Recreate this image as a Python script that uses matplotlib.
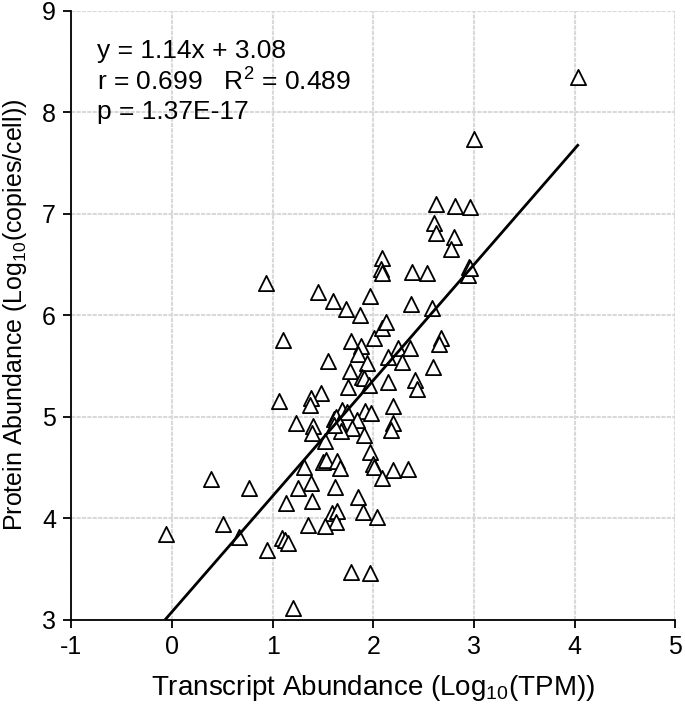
import matplotlib
matplotlib.use("Agg")
import matplotlib.pyplot as plt
import numpy as np

plt.rcParams["font.family"] = ["Liberation Sans", "DejaVu Sans"]
plt.rcParams["mathtext.fontset"] = "custom"
plt.rcParams["mathtext.rm"] = "Liberation Sans"
plt.rcParams["mathtext.it"] = "Liberation Sans:italic"
plt.rcParams["axes.unicode_minus"] = False

# log10 transcript (TPM) vs log10 protein copies/cell
transcript = [
    4.03, 3.00, 2.62, 2.81, 2.96, 2.60, 2.62, 2.80, 2.77, 2.09,
    2.08, 2.09, 2.38, 2.53, 2.95, 2.94, 2.96, 0.93, 1.45, 1.60,
    1.73, 1.87, 1.97, 2.37, 2.58, 1.10, 1.55, 1.78, 1.88, 2.01,
    2.09, 2.13, 1.85, 1.94, 1.77, 1.89, 1.91, 1.96, 1.75, 2.25,
    2.36, 2.15, 2.28, 2.59, 2.67, 2.65, 2.15, 2.41, 2.43, 1.06,
    1.48, 1.38, 1.37, 2.20, 1.69, 1.74, 1.92, 1.98, 1.61, 1.84,
    2.20, 2.18, 1.23, 1.40, 1.39, 1.52, 1.63, 1.66, 1.79, 1.68,
    1.91, 1.97, 2.00, 2.01, 2.20, 2.34, 2.09, 1.50, 1.53, 1.64,
    1.67, 1.31, 1.38, 1.25, 1.62, 1.13, 1.39, 1.85, 1.90, 2.04,
    1.59, 1.64, 1.63, 1.52, 1.35, 1.78, 1.97, 0.39, 0.77, 0.51,
    -0.06, 0.67, 0.94, 1.09, 1.12, 1.15, 1.20, 1.61,
]
protein = [
    8.35, 7.74, 7.10, 7.08, 7.07, 6.91, 6.81, 6.77, 6.65, 6.56,
    6.46, 6.42, 6.43, 6.42, 6.48, 6.40, 6.47, 6.32, 6.23, 6.14,
    6.06, 6.00, 6.19, 6.11, 6.07, 5.76, 5.55, 5.75, 5.70, 5.78,
    5.88, 5.93, 5.62, 5.53, 5.45, 5.39, 5.38, 5.31, 5.29, 5.68,
    5.68, 5.59, 5.54, 5.49, 5.78, 5.72, 5.34, 5.36, 5.27, 5.16,
    5.24, 5.19, 5.12, 5.11, 5.07, 5.05, 5.06, 5.04, 4.98, 4.97,
    4.94, 4.87, 4.94, 4.91, 4.84, 4.76, 5.00, 4.94, 4.89, 4.86,
    4.82, 4.65, 4.54, 4.51, 4.48, 4.49, 4.40, 4.56, 4.58, 4.57,
    4.50, 4.51, 4.35, 4.30, 4.31, 4.15, 4.17, 4.21, 4.06, 4.01,
    4.05, 4.07, 3.96, 3.93, 3.94, 3.47, 3.46, 4.39, 4.30, 3.95,
    3.85, 3.82, 3.69, 3.81, 3.79, 3.76, 3.12, 4.92,
]
slope, intercept = 1.14, 3.08
stats_lines = ["y = 1.14x + 3.08", "r = 0.699   R$^2$ = 0.489", "p = 1.37E-17"]

x = np.array(transcript)
y = np.array(protein)

fig = plt.figure(figsize=(6.85, 7.11), dpi=100)
ax = fig.add_axes([0.104, 0.128, 0.882, 0.857])

ax.grid(True, color="#d9d9d9", lw=1.5, ls=(0, (2, 0.6)))
ax.set_axisbelow(True)

ax.scatter(x, y, marker="^", s=120, facecolors="white", edgecolors="black",
           linewidths=1.3, zorder=3)

x_line = np.array([x.min(), x.max()])
ax.plot(x_line, intercept + slope * x_line, color="black", lw=2, zorder=4)

ax.set_xlim(-1, 5)
ax.set_ylim(3, 9)
ax.set_xticks(range(-1, 6))
ax.set_yticks(range(3, 10))
for side in ("top", "right"):
    ax.spines[side].set_visible(False)
for side in ("left", "bottom"):
    ax.spines[side].set_linewidth(1.3)
ax.tick_params(direction="out", length=6, width=1.3, labelsize=18, pad=5)

ax.set_xlabel("Transcript Abundance (Log$_{10}$(TPM))", fontsize=20, labelpad=10)
ax.set_ylabel("Protein Abundance (Log$_{10}$(copies/cell))", fontsize=18)
ax.yaxis.set_label_coords(-0.07, 0.5)

for i, line in enumerate(stats_lines):
    ax.text(-0.74, 8.6 - i * 0.3, line, fontsize=19, va="center", ha="left")

fig.savefig("out.png", dpi=100)
